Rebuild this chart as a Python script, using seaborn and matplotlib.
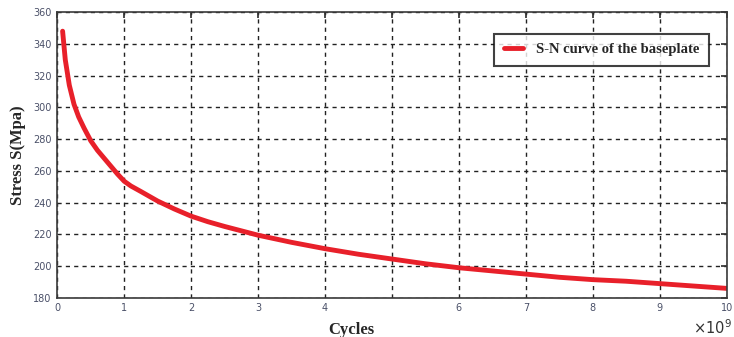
import numpy as np
import pandas as pd
import matplotlib
matplotlib.use("Agg")
import matplotlib.pyplot as plt
import seaborn as sns

# S-N curve values
cycles = [0.08, 0.12, 0.18, 0.25, 0.32, 0.4, 0.5, 0.6, 0.7, 0.8, 0.9, 1.0, 1.1, 1.25,
          1.5, 1.75, 2.0, 2.25, 2.5, 3.0, 3.5, 4.0, 4.5, 5.0, 5.5, 6.0, 6.5, 7.0,
          7.5, 8.0, 8.5, 9.0, 9.5, 10.0]
stress = [348, 330, 314, 302, 294, 287, 279, 273, 268, 263, 258, 253.5, 250.5, 247,
          241, 236, 231.5, 228, 225, 219.5, 215, 211, 207.5, 204.5, 201.5, 199, 197,
          195, 193, 191.5, 190.5, 189, 187.5, 186]
xticks = [0, 1, 2, 3, 4, 5, 6, 7, 8, 9, 10]
xtick_labels = ["0", "1", "2", "3", "4", "", "6", "7", "8", "9", "10"]
yticks = [180, 200, 220, 240, 260, 280, 300, 320, 340, 360]

df = pd.DataFrame({"Cycles": cycles, "Stress": stress})

sns.set_theme(style="white")
plt.rcParams["font.family"] = ["DejaVu Sans"]

fig = plt.figure(figsize=(7.34, 3.37), dpi=100)
ax = fig.add_axes([0.078, 0.116, 0.912, 0.848])

sns.lineplot(data=df, x="Cycles", y="Stress", ax=ax, color="#e8202a", linewidth=3.5,
             label="S-N curve of the baseplate")

ax.set_xlim(0, 10)
ax.set_ylim(180, 360)
ax.set_xticks(xticks)
ax.set_xticklabels(xtick_labels)
ax.set_yticks(yticks)
ax.tick_params(axis="both", direction="in", length=4, labelsize=7, colors="#333333",
               labelcolor="#4a5068", top=True, right=True, pad=4)
ax.grid(True, color="#222222", linestyle=(0, (3, 3)), linewidth=1)

for s in ax.spines.values():
    s.set_color("#3a3a3a")
    s.set_linewidth(1.2)

serif = ["Liberation Serif", "DejaVu Serif"]
ax.set_xlabel("Cycles", fontsize=12, fontweight="bold", family=serif)
ax.xaxis.set_label_coords(0.44, -0.085)
ax.set_ylabel("Stress S(Mpa)", fontsize=12, fontweight="bold", family=serif, labelpad=5)
fig.text(0.997, 0.027, r"$\times10^9$", fontsize=10.5, ha="right", va="center",
         color="#333333")

leg = ax.legend(loc="upper right", bbox_to_anchor=(0.984, 0.95), frameon=True,
                fancybox=False, handlelength=1.3, borderpad=0.65, handletextpad=0.9,
                prop={"family": serif, "weight": "bold", "size": 10.5})
leg.get_frame().set_edgecolor("#111111")
leg.get_frame().set_linewidth(1.5)

fig.savefig("out.png", dpi=100)
